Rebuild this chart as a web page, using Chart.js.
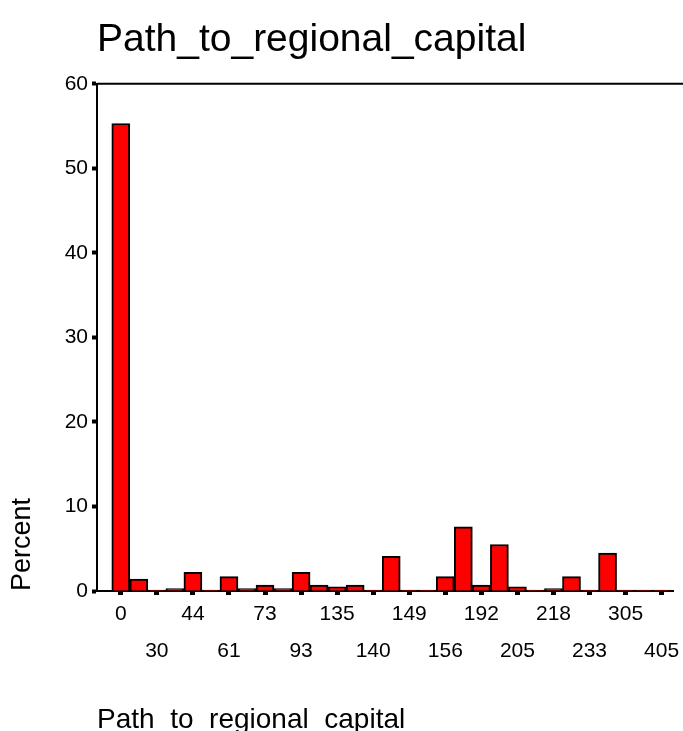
<!DOCTYPE html>
<html>
<head>
<meta charset="utf-8">
<script src="https://cdn.jsdelivr.net/npm/chart.js@4.4.0/dist/chart.umd.min.js"></script>
<style>
  html, body { margin: 0; padding: 0; background: #fff; }
  #contenedor { width: 683px; height: 731px; }
</style>
</head>
<body>
<div id="contenedor"><canvas id="myChart01"></canvas></div>
<script>
// etiquetas visibles del eje x (una cada dos barras)
const etiquetas = ['0', '30', '44', '61', '73', '93', '135', '140', '149', '156', '192', '205', '218', '233', '305', '405'];
// porcentaje de cada categoria, en orden
const porcentajes = [55.3, 1.4, 0.1, 0.3, 2.2, 0.1, 1.7, 0.3, 0.7, 0.3, 2.2, 0.7, 0.5, 0.7, 0.1, 4.1,
                     0.1, 0.1, 1.7, 7.6, 0.7, 5.5, 0.5, 0.1, 0.3, 1.7, 0.1, 4.5, 0.1, 0.1, 0.1];
const ticksY = [0, 10, 20, 30, 40, 50, 60];

const fuente = '"Liberation Sans", Arial, sans-serif';

var puntos = porcentajes.map(function (v, i) { return { x: i, y: v }; });

// linea superior del marco
const marcoSuperior = {
    id: 'marcoSuperior',
    afterDraw: function (chart) {
        const ctx = chart.ctx;
        const area = chart.chartArea;
        ctx.save();
        ctx.strokeStyle = '#000';
        ctx.lineWidth = 2;
        ctx.beginPath();
        ctx.moveTo(area.left, area.top);
        ctx.lineTo(chart.width, area.top);
        ctx.stroke();
        ctx.restore();
    }
};

const grafica = document.querySelector('#myChart01');
let myChart1 = new Chart(grafica, {
    type: 'bar',
    data: {
        datasets: [{
            label: 'Percent',
            data: puntos,
            backgroundColor: '#ff0000',
            borderColor: '#000',
            borderWidth: 2,
            barPercentage: 1,
            categoryPercentage: 1
        }]
    },
    plugins: [marcoSuperior],
    options: {
        responsive: true,
        maintainAspectRatio: false,
        animation: false,
        layout: { padding: { left: 0, right: 10, top: 0, bottom: 0 } },
        plugins: {
            legend: { display: false },
            tooltip: { enabled: false },
            title: {
                display: true,
                text: 'Path_to_regional_capital',
                align: 'start',
                fullSize: false,
                color: '#000',
                font: { family: fuente, size: 39, weight: 'normal', lineHeight: 1.2 },
                padding: { top: 17, bottom: 20 }
            }
        },
        scales: {
            x: {
                type: 'linear',
                offset: false,
                min: -1.32,
                max: 30.63,
                afterBuildTicks: function (scale) {
                    scale.ticks = etiquetas.map(function (e, k) { return { value: k * 2 }; });
                },
                afterFit: function (scale) { scale.height = 140; },
                border: { color: '#000', width: 2 },
                grid: { offset: false, drawOnChartArea: false, tickLength: 4, tickWidth: 5, tickColor: '#000' },
                ticks: {
                    color: '#000',
                    padding: 1,
                    maxRotation: 0,
                    autoSkip: false,
                    font: { family: fuente, size: 21, lineHeight: 1.76 },
                    callback: function (value) {
                        const k = Math.round(value / 2);
                        return k % 2 === 0 ? etiquetas[k] : ['', etiquetas[k]];
                    }
                },
                title: {
                    display: true,
                    text: 'Path_to_regional_capital',
                    align: 'start',
                    color: '#000',
                    font: { family: fuente, size: 28, lineHeight: 0.75 },
                    padding: { top: 20, bottom: 0 }
                }
            },
            y: {
                min: 0,
                max: 60,
                afterBuildTicks: function (scale) {
                    scale.ticks = ticksY.map(function (v) { return { value: v }; });
                },
                afterFit: function (scale) { scale.width = 97; },
                border: { color: '#000', width: 2 },
                grid: { drawOnChartArea: false, tickLength: 5, tickWidth: 4, tickColor: '#000' },
                ticks: {
                    color: '#000',
                    padding: 4,
                    font: { family: fuente, size: 21 }
                },
                title: {
                    display: true,
                    text: 'Percent',
                    align: 'start',
                    color: '#000',
                    font: { family: fuente, size: 27 },
                    padding: { top: 6, bottom: 0 }
                }
            }
        }
    }
});
</script>
</body>
</html>
